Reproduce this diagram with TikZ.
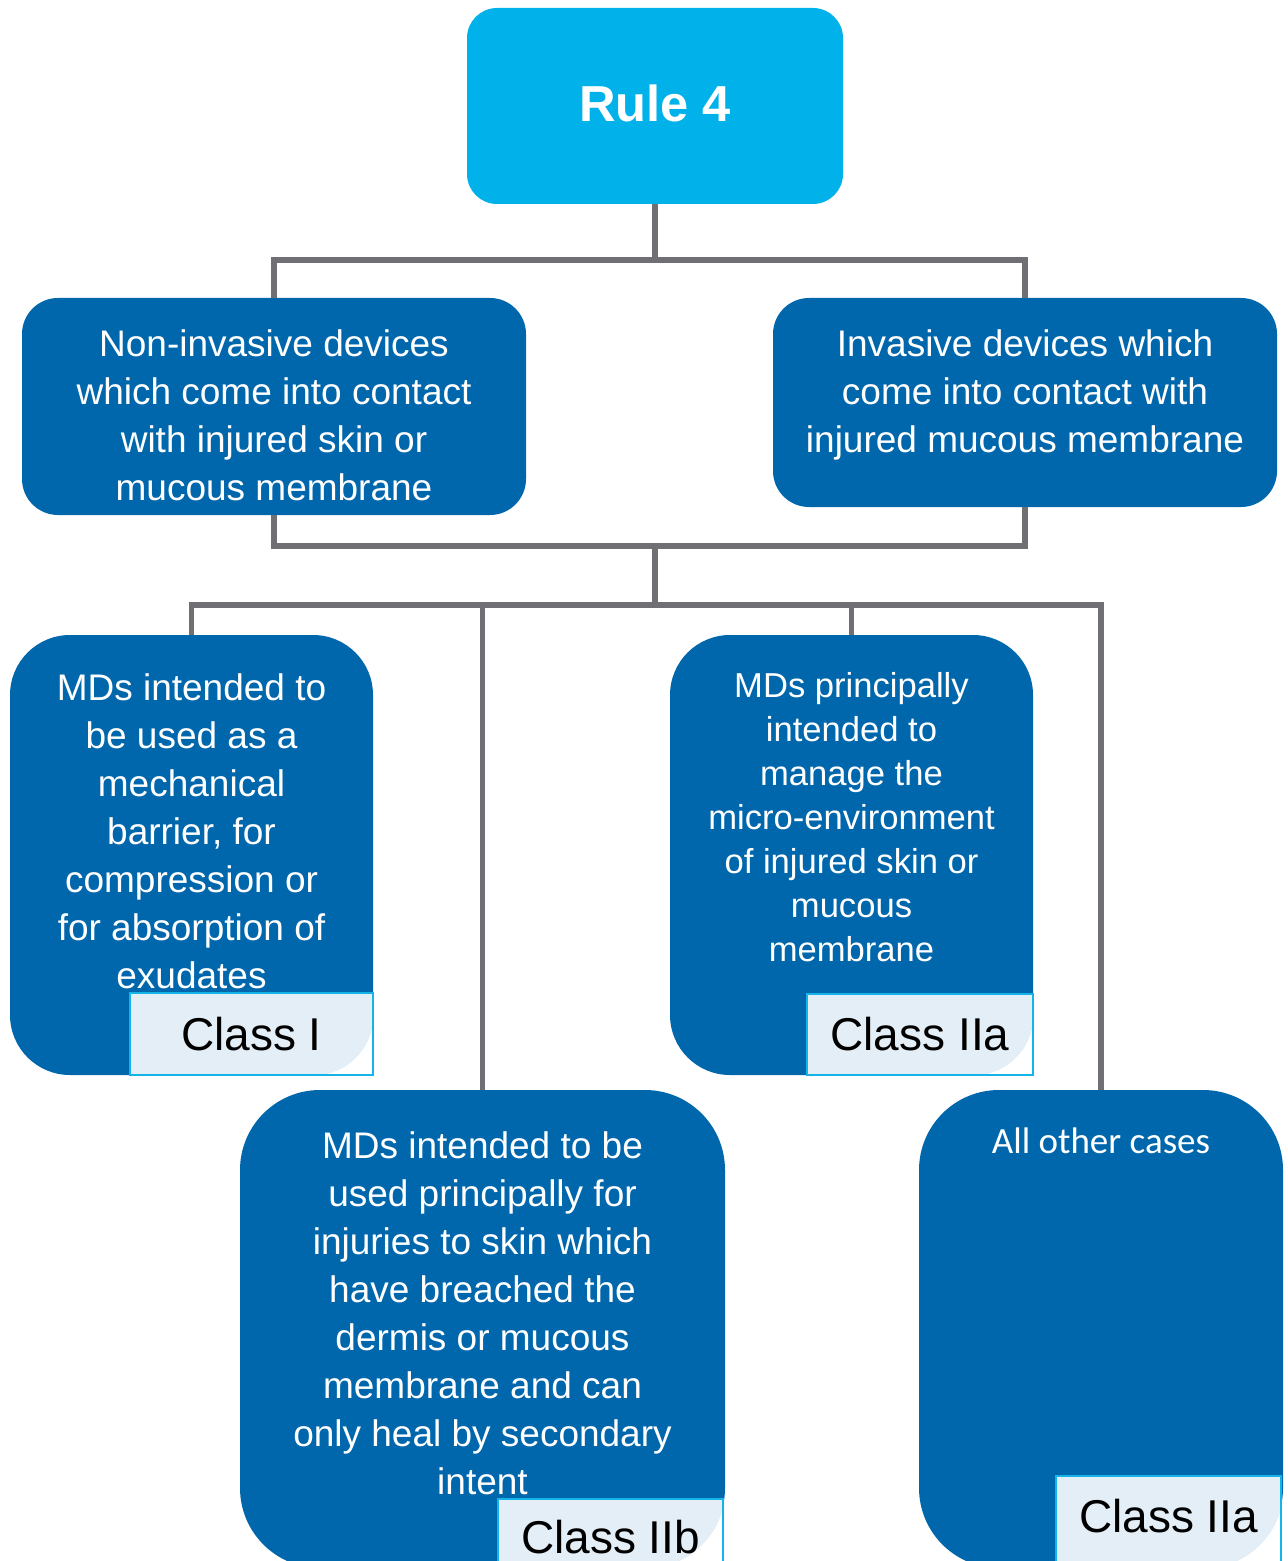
\documentclass[tikz,border=0pt]{standalone}
\usepackage{fontspec}
\setmainfont{Liberation Sans}
\newfontfamily\calibrifont{Carlito}
\definecolor{mdblue}{HTML}{0067AC}
\definecolor{rulecyan}{HTML}{00B1EA}
\definecolor{linegray}{HTML}{707074}
\definecolor{classfill}{HTML}{E4EEF6}
\definecolor{classedge}{HTML}{14B4E8}
\begin{document}
\begin{tikzpicture}[x=0.5pt,y=-0.5pt,
  bluebox/.style={fill=mdblue, draw=none, inner sep=0pt, rounded corners=#1},
  rulebox/.style={fill=rulecyan, draw=none, inner sep=0pt, rounded corners=15pt},
  bodytext/.style={text=white, align=center, inner sep=0pt,
    font=\fontsize{18.5}{24}\selectfont},
  smalltext/.style={text=white, align=center, inner sep=0pt,
    font=\fontsize{17.3}{22}\selectfont},
  classbox/.style={fill=classfill, inner sep=0pt, text=black,
    font=\fontsize{23}{27}\selectfont},
  classtext/.style={inner sep=0pt, text=black, font=\fontsize{23}{27}\selectfont},
  classedge/.style={draw=classedge, line width=1pt},
  connector/.style={draw=linegray, line width=2.6pt}]
\useasboundingbox (0,0) rectangle (1287,1561);
\clip (0,0) rectangle (1287,1561);

% junction points of the tree lines
\coordinate (j1) at (655,260);
\coordinate (j2) at (655,546);
\coordinate (j3) at (655,605);

% top box
\node[rulebox, minimum width=188pt, minimum height=98pt] (rule) at (655,106) {};
\node[text=white, inner sep=0pt, font=\fontsize{25.3}{30}\selectfont\bfseries] (ruletxt) at (655,103) {Rule 4};

% second level
\node[bluebox=18pt, minimum width=252pt, minimum height=108.5pt] (noninv) at (274,406.5) {};
\node[bluebox=18pt, minimum width=252pt, minimum height=104.5pt] (inv) at (1025,402.5) {};
\node[bodytext] (noninvtxt) at (274,415) {Non-invasive devices\\which come into contact\\with injured skin or\\mucous membrane};
\node[bodytext] (invtxt) at (1025,395) {Invasive devices which\\come into contact with\\injured mucous membrane};

% third level
\node[bluebox=30pt, minimum width=181.5pt, minimum height=220pt] (barrier) at (191.5,855) {};
\node[bluebox=30pt, minimum width=181.5pt, minimum height=220pt] (micro) at (851.5,855) {};
\node[bluebox=40pt, minimum width=242.5pt, minimum height=239pt] (breach) at (482.5,1329) {};
\node[bluebox=40pt, minimum width=182pt, minimum height=239pt] (other) at (1101,1329) {};

\node[bodytext] (barriertxt) at (191.5,831) {MDs intended to\\be used as a\\mechanical\\barrier, for\\compression or\\for absorption of\\exudates};
\node[smalltext] (microtxt) at (851.5,817) {MDs principally\\intended to\\manage the\\micro-environment\\of injured skin or\\mucous\\membrane};
\node[bodytext] (breachtxt) at (482.5,1313) {MDs intended to be\\used principally for\\injuries to skin which\\have breached the\\dermis or mucous\\membrane and can\\only heal by secondary\\intent};
\node[text=white, inner sep=0pt, font=\calibrifont\fontsize{18.5}{22}\selectfont] (othertxt) at (1101,1141) {All other cases};

% class labels, their fill kept inside the rounded parent box
\begin{scope}
  \clip[rounded corners=30pt] (barrier.south west) rectangle (barrier.north east);
  \node[classbox, minimum width=121.5pt, minimum height=41pt] (clsI) at (251.5,1034) {Class I};
\end{scope}
\draw[classedge] (clsI.south west) rectangle (clsI.north east);

\begin{scope}
  \clip[rounded corners=30pt] (micro.south west) rectangle (micro.north east);
  \node[classbox, minimum width=113pt, minimum height=40.5pt] (clsIIa) at (920,1034.5) {Class IIa};
\end{scope}
\draw[classedge] (clsIIa.south west) rectangle (clsIIa.north east);

\begin{scope}
  \clip[rounded corners=40pt] (breach.south west) rectangle (breach.north east);
  \node[classbox, minimum width=112.5pt, minimum height=38pt] (clsIIb) at (610.5,1537) {Class IIb};
\end{scope}
\draw[classedge] (clsIIb.south west) rectangle (clsIIb.north east);

\begin{scope}
  \clip[rounded corners=40pt] (other.south west) rectangle (other.north east);
  \node[classbox, minimum width=112.5pt, minimum height=48pt] (clsIIa2) at (1168.5,1524) {};
\end{scope}
\draw[classedge] (clsIIa2.south west) rectangle (clsIIa2.north east);
\node[classtext] (clsIIa2txt) at (1168.5,1516) {Class IIa};

% tree lines
\draw[connector] (rule.south) -- (j1);
\draw[connector] (noninv.north) |- (j1) -| (inv.north);
\draw[connector] (noninv.south) |- (j2) -| (inv.south);
\draw[connector] (j2) -- (j3);
\draw[connector] (barrier.north) |- (j3) -| (other.north);
\draw[connector] (breach.north) -- (breach.north |- j3);
\draw[connector] (micro.north) -- (micro.north |- j3);
\end{tikzpicture}
\end{document}
